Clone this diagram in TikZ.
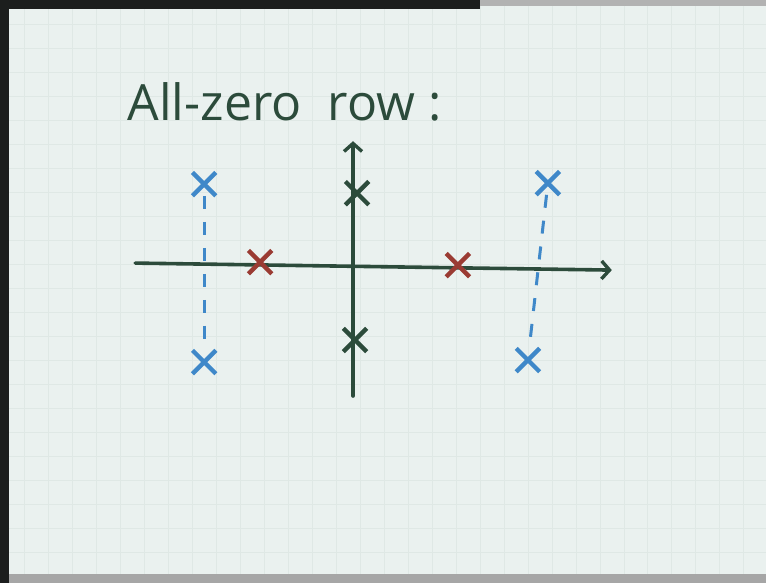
\documentclass[tikz,border=0pt]{standalone}
\usepackage{fontspec}
\setmainfont{Open Sans}
\usetikzlibrary{arrows.meta, positioning, shapes.misc}
\definecolor{InkGreen}{HTML}{2C4B3B}
\definecolor{InkRed}{HTML}{9A3B33}
\definecolor{InkBlue}{HTML}{3F88C9}
\definecolor{Paper}{HTML}{EAF1EF}
\definecolor{PaperGrid}{HTML}{DFE8E5}
\definecolor{Frame}{HTML}{1C1E1D}
\tikzset{
    pole/.style={
        draw=#1,
        cross out,
        line width=4.4pt,
        minimum size=19pt,
        inner sep=0pt
    },
    pole/.default=InkGreen,
    axis/.style={
        -{Straight Barb[length=8pt, width=18pt, line width=3.4pt]},
        line width=3.6pt,
        line cap=round,
        InkGreen
    },
    mirror/.style={
        InkBlue,
        line width=3pt,
        dash pattern=on 13pt off 13pt
    },
    title/.style={
        text=InkGreen,
        font=\fontsize{50}{54}\selectfont,
        anchor=base west
    }
}
\begin{document}
\begin{tikzpicture}[x=1pt, y=-1pt]
        % Paper and photo frame
        \fill[Paper] (0,0) rectangle (766,583);
        \foreach \gx in {24,48,...,744}
            \draw[PaperGrid, line width=0.6pt] (\gx,0) -- (\gx,583);
        \foreach \gy in {24,48,...,576}
            \draw[PaperGrid, line width=0.6pt] (0,\gy) -- (766,\gy);
        \fill[Frame] (0,0) rectangle (9,583);
        \fill[Frame] (0,0) rectangle (480,9);
        \fill[gray!60] (480,0) rectangle (766,6);
        \fill[gray!70] (9,574) rectangle (766,583);

        % Heading
        \node[title] (head) at (124,120) {All-zero\ \ row :};

        % Axes
        \coordinate (re west) at (135,263);
        \coordinate (re east) at (612,270);
        \coordinate (im south) at (353,396);
        \coordinate (im north) at (353,141);
        \draw[axis] (re west) -- (re east);
        \draw[axis] (im south) -- (im north);

        % Poles
        \node[pole] (g1) at (357,193) {};
        \node[pole] (g2) at (355,340) {};
        \node[pole=InkRed] (r1) at (260,262) {};
        \node[pole=InkRed] (r2) at (458,265) {};
        \node[pole=InkBlue] (b1) at (204,184) {};
        \node[pole=InkBlue] (b2) at (204,362) {};
        \node[pole=InkBlue] (b3) at (548,183) {};
        \node[pole=InkBlue] (b4) at (528,360) {};

        % Mirrored pairs
        \draw[mirror] (b1) -- (b2);
        \draw[mirror] (b3) -- (b4);
\end{tikzpicture}
\end{document}
